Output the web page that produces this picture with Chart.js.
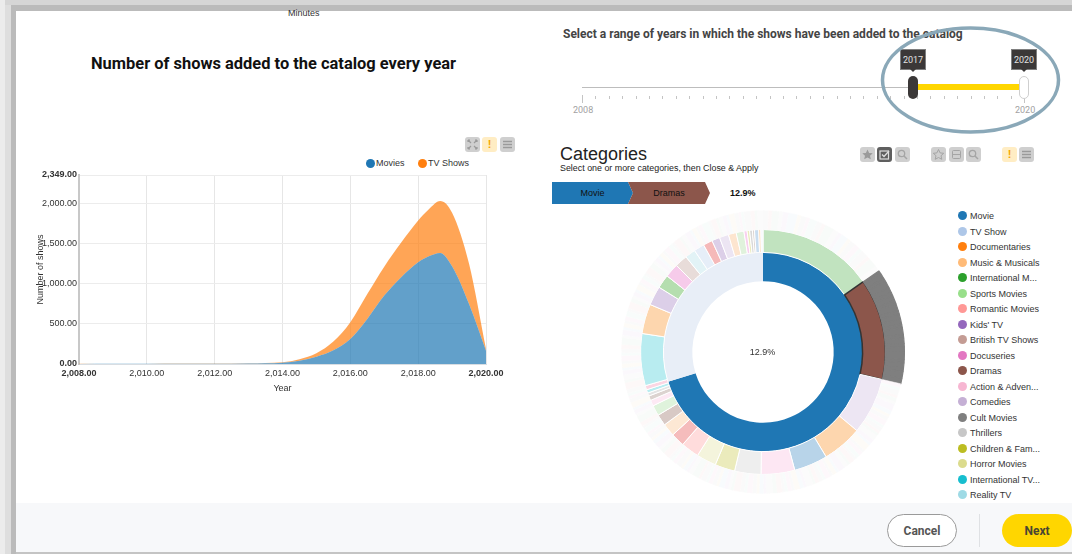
<!DOCTYPE html>
<html lang="en">
<head>
<meta charset="utf-8">
<title>Shows added to the catalog</title>
<script src="https://cdn.jsdelivr.net/npm/chart.js@4/dist/chart.umd.min.js"></script>
<style>
  html, body { margin: 0; padding: 0; background: #fff; }
  body { width: 1072px; height: 554px; overflow: hidden; position: relative; font-family: "Liberation Sans", Arial, sans-serif; color: #333; }
  .abs { position: absolute; }
  .nowrap { white-space: nowrap; }
  .frame-top1 { left: 0; top: 0; width: 1072px; height: 5px; background: #d6d6d6; }
  .frame-top2 { left: 11px; top: 5px; width: 1061px; height: 6px; background: #bbbbbb; }
  .frame-l1 { left: 0; top: 0; width: 5px; height: 554px; background: #ececec; }
  .frame-l2 { left: 5px; top: 5px; width: 6px; height: 549px; background: #dedede; }
  .frame-l3 { left: 11px; top: 5px; width: 5px; height: 549px; background: #bbbbbb; }
  .footer { left: 16px; top: 503px; width: 1056px; height: 49px; background: #f7f8fa; }
  .footer-line { left: 16px; top: 552px; width: 1056px; height: 2px; background: #c4c4c4; }
  .h-main { left: 91px; top: 54px; font: 700 16.45px Roboto, sans-serif; color: #111; }
  .h-range { left: 563px; top: 27px; font: 700 12px Roboto, sans-serif; color: #444; }
  .minutes { left: 288px; top: 8px; font: 9px "Liberation Sans", sans-serif; color: #333; }
  .track { left: 582px; top: 87px; width: 332px; height: 1px; background: #bdbdbd; }
  .track-on { left: 916px; top: 84px; width: 106px; height: 6px; background: #ffd600; }
  .tick { top: 96px; width: 1px; height: 3px; background: #c4c4c4; }
  .tick-end { top: 95px; height: 8px; }
  .range-end { top: 105px; font: 9px Roboto, sans-serif; color: #a2a2a2; }
  .handle { top: 76px; width: 10px; height: 23px; border-radius: 5px; box-sizing: border-box; }
  .bubble { top: 49px; width: 26px; height: 21px; background: #3b3838; color: #e2e2e2; font: 9px Roboto, sans-serif; line-height: 21px; text-align: center; border: 1px solid #7f7f7f; box-sizing: border-box; }
  .bubble-tip { top: 69px; width: 0; height: 0; border-left: 3px solid transparent; border-right: 3px solid transparent; border-top: 3px solid #3b3838; }
  .h-cat { left: 560px; top: 144px; font: 18px "Liberation Sans", sans-serif; color: #222; }
  .h-sub { left: 560px; top: 163px; font: 8.9px "Liberation Sans", sans-serif; color: #222; }
  .crumb { top: 182px; height: 22px; font: 9px/22px "Liberation Sans", sans-serif; color: #111; text-align: center; }
  .crumb-pct { left: 730px; top: 182px; font: 700 9px/22px "Liberation Sans", sans-serif; color: #111; }
  .btn { width: 15px; height: 15px; border-radius: 3px; background: #cfcfcf; color: #9a9a9a; font: 700 11px/15px "Liberation Sans", sans-serif; text-align: center; }
  .btn svg { display: block; width: 15px; height: 15px; }
  .btn-on { background: #5f5f5f; color: #ddd; }
  .btn-warn { background: #ffedc4; color: #f5a800; }
  .leg-dot { width: 9px; height: 9px; border-radius: 50%; }
  .leg-txt { font: 9px/11px "Liberation Sans", sans-serif; color: #333; }
  .center-pct { left: 742px; top: 346px; width: 41px; text-align: center; font: 9px/12px "Liberation Sans", sans-serif; color: #333; }
  .pill { top: 514px; width: 70px; height: 33px; box-sizing: border-box; border-radius: 17px; text-align: center; font: 700 12px/33px Roboto, sans-serif; }
  canvas { display: block; }
</style>
</head>
<body>
<div class="abs frame-top1"></div><div class="abs frame-top2"></div>
<div class="abs frame-l1"></div><div class="abs frame-l2"></div><div class="abs frame-l3"></div>
<div class="abs footer"></div><div class="abs footer-line"></div>

<div class="abs minutes nowrap">Minutes</div>
<div class="abs h-main nowrap">Number of shows added to the catalog every year</div>
<div class="abs h-range nowrap">Select a range of years in which the shows have been added to the catalog</div>

<div id="slider"></div>
<div class="abs h-cat nowrap">Categories</div>
<div class="abs h-sub nowrap">Select one or more categories, then Close &amp; Apply</div>
<div class="abs crumb" style="left:552px;width:81px;background:#1f77b4;clip-path:polygon(0 0,76px 0,81px 11px,76px 22px,0 22px)">Movie</div>
<div class="abs crumb" style="left:628px;width:82px;background:#8c564b;clip-path:polygon(0 0,77px 0,82px 11px,77px 22px,0 22px,5px 11px)">Dramas</div>
<div class="abs crumb-pct nowrap">12.9%</div>

<div id="buttons"></div>
<div id="areaLegend"></div>
<div id="catLegend"></div>

<div class="abs" style="left:35px;top:165px;width:485px;height:229px"><canvas id="areaChart" width="485" height="229"></canvas></div>
<div class="abs" style="left:613px;top:202px;width:300px;height:300px"><canvas id="sunburst" width="300" height="300"></canvas></div>
<div class="abs center-pct">12.9%</div>

<svg class="abs" style="left:875px;top:22px" width="195" height="118"><ellipse cx="95.5" cy="58" rx="88" ry="52" fill="none" stroke="#8aa8b8" stroke-width="3.5"/></svg>

<div class="abs pill" style="left:887px;background:#fff;border:1px solid #9a9a9a;color:#555;line-height:32px">Cancel</div>
<div class="abs" style="left:979px;top:514px;width:1px;height:33px;background:#dfe1e4"></div>
<div class="abs pill" style="left:1002px;background:#ffd600;color:#4a4632;line-height:34px">Next</div>

<script>
// Shows added per year, stacked by type
const yearPoints = [2008,2009,2010,2011,2012,2013,2014,2014.5,2015,2015.5,2016,2016.5,2017,2017.5,2018,2018.3,2018.65,2019,2019.5,2020];
const movieAdds  = [1,2,2,4,4,6,15,40,90,170,310,560,850,1079,1265,1336,1380,1215,747,166];
const tvAdds     = [1,1,2,2,3,4,7,20,45,110,210,310,360,431,519,581,645,665,498,21];
const yearTicks  = [2008,2010,2012,2014,2016,2018,2020];
const showTicks  = [0,500,1000,1500,2000,2349];

// Sunburst: type ring, then category ring, then title slivers
const typeNames   = ['Movie','TV Show'];
const typeShares  = [252.6,107.4];
const typeColors  = ['#1f77b4','#e8eef7'];
const catShares   = [55,48,27,19,16,16,12.5,9.5,9.4,8.6,6.5,6.1,5.4,5,2.8,2.2,1.5,1.6,2,24.7,14.1,9.1,6.5,6.6,6,5,5,4.4,3.8,4.4,3.7,3.7,1.5,1.2,1.3,1,2,1,1];
const catColors   = ['#c1e3bf','#8c564b','#ede6f3','#fdd6ae','#b8d4e9','#fde7f3','#eeeeee','#ebebbc','#f4f4dc','#ffdcdc','#f5bcbc','#fde8d4','#d8c9c5','#dff3dc','#fde9f4','#dcd3d0','#e4e4e4','#b8ecf0','#fbd6e3','#b8ecf0','#fdd6ae','#dccfe8','#b5deaf','#f6cbea','#e8dcd9','#e2f3f6','#e6eef8','#f5b9b9','#dccfe8','#ece5f3','#fde5cf','#e0f2dc','#f9d0ef','#ebebbc','#d8d8d8','#dcd3d0','#c9ddf0','#fdd6ae','#f4f8fc'];
const sliverTints = ['#fafafa','#fdf8f8','#f8fbf9','#fbfbfb','#fbf8fc','#f8fbfd','#fdfbf7','#fafafa','#fdf8fb','#f8fcfb'];

// Title counts inside each category group, in drawing order
const sliversBeforeDramas = [3,2,4,2,3,5,2,3,2,4,3,2,5,3,2,4,2,3,3,2,4,2,5,3];
const sliversDramas = [2,3,2,4,3,2,3,2,4,2,3,3,2,4,2,3,2,3,4,2,3,2,4,3];
const sliversAfterDramas = [3,2,4,2,3,2,5,3,2,3,4,2,3,2,2,4,3,2,5,2,3,3,2,4,2,3,5,2,3,2,4,2,3,3,2,5,2,3,4,2,3,2,2,4,3,5,2,3,2,3,4,2,3,5,2,2,3,4,2,3,3,2,4,2,5,3,2,3,2,4,3,2,2,5,3,2,4,3,2,3,2,4,2,3,5,2,3,2,4,3,2,2,3,5,2,4,3,2,3,2,4,2,3,3,5,2,4,2,3,2,3,4,2,5,3,2,3,2,4,2,3,3,2,5,4,2,3,2,3,2,4,3,2,5,2,3,4,2,3,2,3,5,2,4,2,3,3,2,4,3,2,2,5,3,2,4];
const dramasStart = 55, dramasSpan = 48;

const catLegendNames = ['Movie','TV Show','Documentaries','Music & Musicals','International M...','Sports Movies','Romantic Movies',"Kids' TV",'British TV Shows','Docuseries','Dramas','Action & Adven...','Comedies','Cult Movies','Thrillers','Children & Fam...','Horror Movies','International TV...','Reality TV'];
const catLegendColors = ['#1f77b4','#aec7e8','#ff7f0e','#ffbb78','#2ca02c','#98df8a','#ff9896','#9467bd','#c49c94','#e377c2','#8c564b','#f7b6d2','#c5b0d5','#7f7f7f','#c7c7c7','#bcbd22','#dbdb8d','#17becf','#9edae5'];

const areaLegend = [['Movies','#1f77b4',370],['TV Shows','#ff7f0e',422]];

// Page furniture built from small lists
function el(parent, cls, css, html) {
  const d = document.createElement('div');
  d.className = 'abs ' + cls;
  d.style.cssText = css;
  if (html) d.innerHTML = html;
  parent.appendChild(d);
  return d;
}
const catHost = document.getElementById('catLegend');
catLegendNames.forEach((name, i) => {
  const y = 216 + i * 15.5;
  el(catHost, 'leg-dot', `left:958px;top:${y - 5}px;background:${catLegendColors[i]}`);
  el(catHost, 'leg-txt nowrap', `left:970px;top:${y - 5}px`, name.replace('&', '&amp;'));
});
const areaHost = document.getElementById('areaLegend');
areaLegend.forEach(([name, color, x]) => {
  el(areaHost, 'leg-dot', `left:${x - 4.5}px;top:159px;background:${color}`);
  el(areaHost, 'leg-txt nowrap', `left:${x + 6}px;top:158px`, name);
});

const sliderHost = document.getElementById('slider');
el(sliderHost, 'track', '');
for (let n = 0; n <= 33; n++) {
  const x = 582 + n * 13.4;
  el(sliderHost, 'tick' + (n === 0 || n === 33 ? ' tick-end' : ''), `left:${x}px`);
}
el(sliderHost, 'track-on', '');
el(sliderHost, 'range-end nowrap', 'left:573px', '2008');
el(sliderHost, 'range-end nowrap', 'left:1015px', '2020');
el(sliderHost, 'handle', 'left:908px;background:#3b3838');
el(sliderHost, 'handle', 'left:1019px;background:#fff;border:1px solid #cfcfcf');
el(sliderHost, 'bubble', 'left:900px', '2017');
el(sliderHost, 'bubble-tip', 'left:910px');
el(sliderHost, 'bubble', 'left:1011px', '2020');
el(sliderHost, 'bubble-tip', 'left:1021px');

// Toolbar glyphs
const glyph = {
  expand: '<svg viewBox="0 0 15 15"><path d="M3 3l3 3M12 3L9 6M3 12l3-3M12 12L9 9M3 3h2M3 3v2M12 3h-2M12 3v2M3 12h2M3 12v-2M12 12h-2M12 12v-2" stroke="#9a9a9a" stroke-width="1.2" fill="none"/></svg>',
  menu: '<svg viewBox="0 0 15 15"><path d="M3 4.5h9M3 7.5h9M3 10.5h9" stroke="#9a9a9a" stroke-width="1.3"/></svg>',
  star: '<svg viewBox="0 0 15 15"><path d="M7.5 2.5l1.6 3.4 3.6.4-2.7 2.4.8 3.6-3.3-1.8-3.3 1.8.8-3.6L2.3 6.3l3.6-.4z" fill="#9a9a9a"/></svg>',
  starLine: '<svg viewBox="0 0 15 15"><path d="M7.5 2.5l1.6 3.4 3.6.4-2.7 2.4.8 3.6-3.3-1.8-3.3 1.8.8-3.6L2.3 6.3l3.6-.4z" fill="none" stroke="#a5a5a5"/></svg>',
  check: '<svg viewBox="0 0 15 15"><rect x="3" y="4" width="8.5" height="8" fill="none" stroke="#ddd" stroke-width="1.2"/><path d="M5 7.5l2 2 5-5.5" fill="none" stroke="#ddd" stroke-width="1.3"/></svg>',
  search: '<svg viewBox="0 0 15 15"><circle cx="6.5" cy="6.5" r="3.2" fill="none" stroke="#a5a5a5" stroke-width="1.3"/><path d="M9 9l3 3" stroke="#a5a5a5" stroke-width="1.5"/></svg>',
  minus: '<svg viewBox="0 0 15 15"><rect x="3.5" y="3.5" width="8" height="8" rx="1" fill="none" stroke="#a5a5a5"/><path d="M3.5 7.5h8" stroke="#a5a5a5"/></svg>'
};
const buttonSpec = [
  [465,137,'',glyph.expand],[482,137,'btn-warn','!'],[500,137,'',glyph.menu],
  [860,147,'',glyph.star],[877,147,'btn-on',glyph.check],[895,147,'',glyph.search],
  [931,147,'',glyph.starLine],[949,147,'',glyph.minus],[966,147,'',glyph.search],
  [1002,147,'btn-warn','!'],[1019,147,'',glyph.menu]
];
const btnHost = document.getElementById('buttons');
buttonSpec.forEach(([x, y, cls, html]) => el(btnHost, 'btn ' + cls, `left:${x}px;top:${y}px`, html));

// Stacked area chart
const fmt = v => Number(v).toLocaleString('en-US', { minimumFractionDigits: 2, maximumFractionDigits: 2 });
const baseFont = { family: '"Liberation Sans", Arial, sans-serif', size: 9 };
const toPoints = arr => arr.map((y, i) => ({ x: yearPoints[i], y }));
const boldAt = (values) => c => ({ ...baseFont, weight: (c.tick && values.includes(c.tick.value)) ? 'bold' : 'normal' });

new Chart(document.getElementById('areaChart'), {
  type: 'line',
  data: {
    datasets: [
      { label: 'Movies', data: toPoints(movieAdds), backgroundColor: 'rgba(31,119,180,0.7)', borderWidth: 0, fill: 'origin', pointRadius: 0, cubicInterpolationMode: 'monotone' },
      { label: 'TV Shows', data: toPoints(tvAdds), backgroundColor: 'rgba(255,127,14,0.7)', borderWidth: 0, fill: '-1', pointRadius: 0, cubicInterpolationMode: 'monotone' }
    ]
  },
  options: {
    responsive: false,
    animation: false,
    layout: { padding: { left: 0, right: 34, top: 10, bottom: 0 } },
    plugins: { legend: { display: false }, tooltip: { enabled: false } },
    scales: {
      x: {
        type: 'linear',
        min: 2008, max: 2020,
        afterBuildTicks: s => { s.ticks = yearTicks.map(value => ({ value })); },
        afterFit: s => { s.height = 30; },
        grid: { color: '#e6e6e6', drawTicks: false },
        border: { color: '#d8dde2' },
        title: { display: true, text: 'Year', color: '#333', font: baseFont, padding: { top: 4, bottom: 0 } },
        ticks: {
          color: '#333', padding: 4, maxRotation: 0, autoSkip: false,
          callback: fmt,
          font: boldAt([2008, 2020])
        }
      },
      y: {
        stacked: true,
        min: 0, max: 2349,
        afterBuildTicks: s => { s.ticks = showTicks.map(value => ({ value })); },
        afterFit: s => { s.width = 44; },
        grid: { color: '#ececec', drawTicks: false },
        border: { color: '#c8c8c8', width: 2 },
        title: { display: true, text: 'Number of shows', color: '#333', font: baseFont, padding: { top: 0, bottom: 0 } },
        ticks: {
          color: '#333', padding: 2, autoSkip: false,
          callback: fmt,
          font: boldAt([0, 2349])
        }
      }
    }
  }
});

// Sunburst: sliver ring is scaled so each group fills its parent's sweep
const total = a => a.reduce((s, v) => s + v, 0);
const scaleTo = (a, span) => a.map(v => v * span / total(a));
const sliverValues = [
  ...scaleTo(sliversBeforeDramas, dramasStart),
  ...scaleTo(sliversDramas, dramasSpan),
  ...scaleTo(sliversAfterDramas, 360 - dramasStart - dramasSpan)
];
const isDramasSliver = i => i >= sliversBeforeDramas.length && i < sliversBeforeDramas.length + sliversDramas.length;
const sliverColors = sliverValues.map((v, i) => isDramasSliver(i) ? '#7f7f7f' : sliverTints[i % sliverTints.length]);

new Chart(document.getElementById('sunburst'), {
  type: 'doughnut',
  data: {
    datasets: [
      {
        data: sliverValues,
        backgroundColor: sliverColors,
        borderColor: sliverColors,
        borderWidth: sliverValues.map((v, i) => isDramasSliver(i) ? 1.2 : 0.5),
        weight: 19
      },
      {
        data: catShares,
        backgroundColor: catColors,
        borderColor: catShares.map((v, i) => i === 1 ? '#333' : '#ffffff'),
        borderWidth: catShares.map((v, i) => i === 1 ? 1.5 : 1),
        weight: 23
      },
      { data: typeShares, backgroundColor: typeColors, borderWidth: 0, weight: 29 }
    ]
  },
  options: {
    responsive: false,
    animation: false,
    cutout: '50%',
    layout: { padding: 8 },
    plugins: { legend: { display: false }, tooltip: { enabled: false } }
  }
});
</script>
</body>
</html>
